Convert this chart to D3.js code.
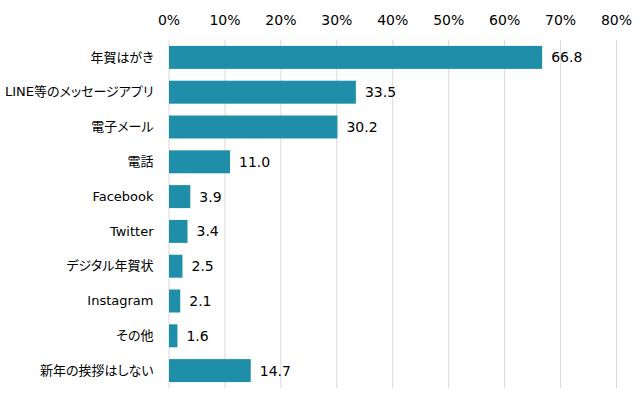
<!DOCTYPE html>
<html>
<head>
<meta charset="utf-8">
<script src="https://cdn.jsdelivr.net/npm/d3@7"></script>
<style>
  body { margin: 0; background: #fff; }
  svg text {
    font-family: "DejaVu Sans", "Noto Sans CJK JP", sans-serif;
    font-feature-settings: "palt";
  }
</style>
</head>
<body>
<script>
const categories = ["年賀はがき", "LINE等のメッセージアプリ", "電子メール", "電話", "Facebook",
    "Twitter", "デジタル年賀状", "Instagram", "その他", "新年の挨拶はしない"];
const values = [66.8, 33.5, 30.2, 11.0, 3.9, 3.4, 2.5, 2.1, 1.6, 14.7];
const tickValues = [0, 10, 20, 30, 40, 50, 60, 70, 80];

const width = 642, height = 396;
const barColor = "#1f8ea8";

const svg = d3.select("body")
    .append("svg")
    .attr("width", width)
    .attr("height", height);

const x = d3.scaleLinear()
    .domain([0, 80])
    .range([168.5, 616]);
const y = d3.scaleBand()
    .domain(categories)
    .range([40, 388])
    .paddingInner(0.34)
    .paddingOuter(0.17);

// gridlines + top tick labels
const xAxis = g => g
    .attr("transform", "translate(0,40)")
    .call(d3.axisTop(x)
        .tickValues(tickValues)
        .tickFormat(d => d + "%")
        .tickSize(-348)
        .tickPadding(15))
    .call(g => g.select(".domain").remove())
    .call(g => g.selectAll(".tick line").attr("stroke", "#d9d9d9"))
    .call(g => g.selectAll(".tick text")
        .attr("fill", "#000")
        .attr("font-size", 14));
svg.append("g").call(xAxis);

svg.append("g")
    .selectAll("rect")
    .data(values)
    .join("rect")
        .attr("x", x(0) + 0.5)
        .attr("y", (d, i) => y(categories[i]))
        .attr("width", d => x(d) - x(0) - 0.5)
        .attr("height", y.bandwidth())
        .attr("fill", barColor);

svg.append("g")
    .selectAll("text")
    .data(values)
    .join("text")
        .attr("x", d => x(d) + 9)
        .attr("y", (d, i) => y(categories[i]) + y.bandwidth() / 2)
        .attr("dy", "0.35em")
        .attr("font-size", 14)
        .text(d => d.toFixed(1));

const yAxis = g => g
    .attr("transform", `translate(${x(0)},0)`)
    .call(d3.axisLeft(y).tickSize(0).tickPadding(15))
    .call(g => g.select(".domain").remove())
    .call(g => g.selectAll(".tick text")
        .attr("fill", "#000")
        .attr("font-size", 13));
svg.append("g").call(yAxis);
</script>
</body>
</html>
